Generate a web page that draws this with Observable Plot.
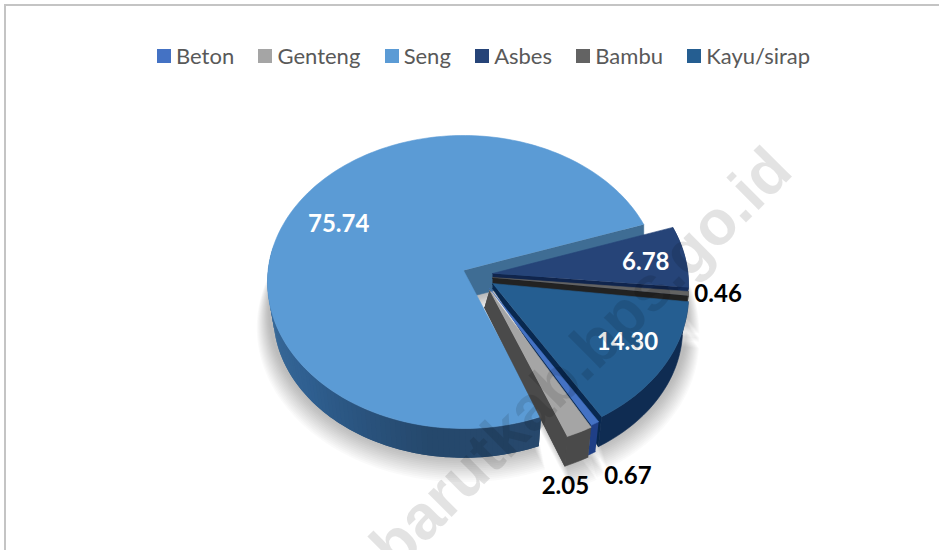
<!DOCTYPE html>
<html><head><meta charset="utf-8">
<script src="https://cdn.jsdelivr.net/npm/d3@7"></script>
<script src="https://cdn.jsdelivr.net/npm/@observablehq/plot@0.6"></script>
<style>
html,body{margin:0;padding:0;background:#fff;width:939px;height:550px;overflow:hidden;position:relative}
#frame{position:absolute;left:4px;top:4px;right:-10px;bottom:-10px;border-left:2px solid #c4c4c4;border-top:2px solid #c4c4c4;pointer-events:none}
#legend{position:absolute;left:157px;top:42px;width:760px;height:32px}
#chart{position:absolute;left:0;top:80px}
.lg-swatches{display:flex!important;justify-content:flex-start;margin:0!important;min-height:0!important;font:22px Lato,sans-serif!important;color:#595959}
.lg-swatch{margin-right:24.3px!important;margin-left:0!important}
.lg-swatch:last-child{margin-right:0!important}
.lg-swatch svg{margin-right:5px!important}
</style></head><body>
<div id="frame"></div><div id="legend"></div><div id="chart"></div>
<script>
// data
const categories = ["Beton","Genteng","Seng","Asbes","Bambu","Kayu/sirap"];
const values = [0.67,2.05,75.74,6.78,0.46,14.30];
const colors = ["#4472c4","#a5a5a5","#5b9bd5","#264478","#636363","#255e91"];

// look of the pie
const W=939,H=470,CX=463,CY=190,B=195.4,A=145.6,K=0.0785;
const S=0.97,D=34;
const rot=148.6*Math.PI/180;
const explode={"Beton":[26,18],"Genteng":[26,20],"Seng":[0,0],"Asbes":[29,3],"Bambu":[29,7],"Kayu/sirap":[29,13]};
const endWall={"Genteng":"#4a4a4a","Asbes":"#10254d","Bambu":"#222222","Kayu/sirap":"#08284f"};
const endApex={"Genteng":[-5,17],"Asbes":[0,5],"Bambu":[0,7],"Kayu/sirap":[0,5]};
const rimWall={"Beton":"#1f3f86","Genteng":"#4a4a4a","Asbes":"#142d5c","Bambu":"#333333","Kayu/sirap":"#0f2c52"};
const labelPlace={"Seng":[.72,0,-3],"Asbes":[.78,3,2],"Kayu/sirap":[.8,-1,-7],"Bambu":[1.15,0,-2],"Genteng":[1,-14,54],"Beton":[1,33,53]};
const labelWhite=new Set(["Seng","Asbes","Kayu/sirap"]);

const slices=d3.pie().sort(null).startAngle(rot).endAngle(rot+2*Math.PI)(values).map((a,i)=>({
  name:categories[i],value:values[i],color:colors[i],a0:a.startAngle,a1:a.endAngle,ox:explode[categories[i]][0]/B,oy:-explode[categories[i]][1]/A
}));
function proj(t,r=1){const u=r*Math.sin(t),v=r*Math.cos(t),w=1+K*v;return [u/w,v/w];}
const top_=(s,t,r=1)=>{const [a,b]=proj(t,r);return {x:s.ox+a,y:s.oy+b};};
const low=(s,t,sc=S,d=D)=>{const [a,b]=proj(t);return {x:s.ox+sc*a,y:s.oy+sc*b-d/A};};
const apex=s=>({x:s.ox,y:s.oy});
const arc=(s,a,b,f)=>{const n=Math.max(2,Math.ceil(Math.abs(b-a)/(Math.PI/120)));return d3.range(n+1).map(i=>f(s,a+(b-a)*i/n));};
const poly=(pts,fill,extra={})=>Plot.line(pts,{x:"x",y:"y",fill,stroke:fill,strokeWidth:0.6,...extra});
const face=s=>[apex(s),...arc(s,s.a0,s.a1,top_)];
const by=n=>slices.find(s=>s.name===n);

const marks=[];
// soft shadow below the pie, built up from translucent layers
const layers=14;
for(let i=0;i<layers;i++){
  const f=i/(layers-1),sc=1.055-0.06*f,d=45-15*f;
  for(const s of slices){
    const a=apex(s);
    marks.push(poly([{x:a.x,y:a.y-d/A},...arc(s,s.a0,s.a1,(q,t)=>low(q,t,sc,d))],"#000",{stroke:"none",fillOpacity:0.021}));
  }
}

// Seng: far wall, rim wall with shading, top
const seng=by("Seng");
const e=top_(seng,seng.a1);
marks.push(poly([apex(seng),e,{x:e.x,y:e.y-28/A},{x:seng.ox,y:seng.oy-28/A}],"#3f6d94"));
const shade=d3.scaleLinear().domain([280,230,190,158]).range(["#41729f","#2f5f90","#25486c","#27486c"]);
const sengFirst=seng.a0*180/Math.PI;
for(let deg=280;deg>sengFirst;deg-=1.5){
  const t0=Math.max(seng.a0,(deg-3)*Math.PI/180),t1=deg*Math.PI/180;
  marks.push(poly([...arc(seng,t0,t1,top_),...arc(seng,t1,t0,low)],shade(deg),{stroke:"none"}));
}

// Genteng's long wall lies under the Seng top
const gent=by("Genteng");
const wall=(s)=>{const a=apex(s),[dx,dy]=endApex[s.name];
  return poly([a,top_(s,s.a1),low(s,s.a1),{x:a.x+dx/B,y:a.y-dy/A}],endWall[s.name]);};
marks.push(wall(gent));
marks.push(poly(face(seng),seng.color));

// the other slices in drawing order
for(const n of ["Asbes","Bambu","Kayu/sirap","Beton","Genteng"]){
  const s=by(n);
  if(n!=="Beton") marks.push(wall(s));
  marks.push(poly([...arc(s,s.a0,s.a1,top_),...arc(s,s.a1,s.a0,low)],rimWall[n]));
  marks.push(poly(face(s),s.color));
}

// value labels
const labels=slices.map(s=>{
  const [r,dx,dy]=labelPlace[s.name];const p=top_(s,(s.a0+s.a1)/2,r);
  return {x:p.x+dx/B,y:p.y-dy/A,text:d3.format(".2f")(s.value),white:labelWhite.has(s.name)};
});
const labelOpts={x:"x",y:"y",text:"text",fontFamily:"Lato, sans-serif",fontWeight:700,fontSize:24};
marks.push(Plot.text(labels.filter(d=>d.white),{...labelOpts,fill:"#fff"}));
marks.push(Plot.text(labels.filter(d=>!d.white),{...labelOpts,fill:"#000"}));

// watermark
marks.push(Plot.text(["barutkab.bps.go.id"],{
  x:()=>(581-CX)/B,y:()=>(CY+80-358)/A,text:d=>d,rotate:-45,fontFamily:"Liberation Sans, sans-serif",fontWeight:700,fontSize:63,fill:"#000",fillOpacity:0.11
}));

const chart=Plot.plot({
  width:W,height:H,margin:0,
  x:{domain:[-CX/B,(W-CX)/B],range:[0,W],axis:null},
  y:{domain:[CY/A,(CY-H)/A],range:[0,H],axis:null},
  style:{background:"transparent",overflow:"hidden"},
  marks
});
document.getElementById("chart").append(chart);
document.getElementById("legend").append(Plot.legend({
  color:{type:"ordinal",domain:categories,range:colors},
  legend:"swatches",swatchSize:14,className:"lg"
}));
</script></body></html>
